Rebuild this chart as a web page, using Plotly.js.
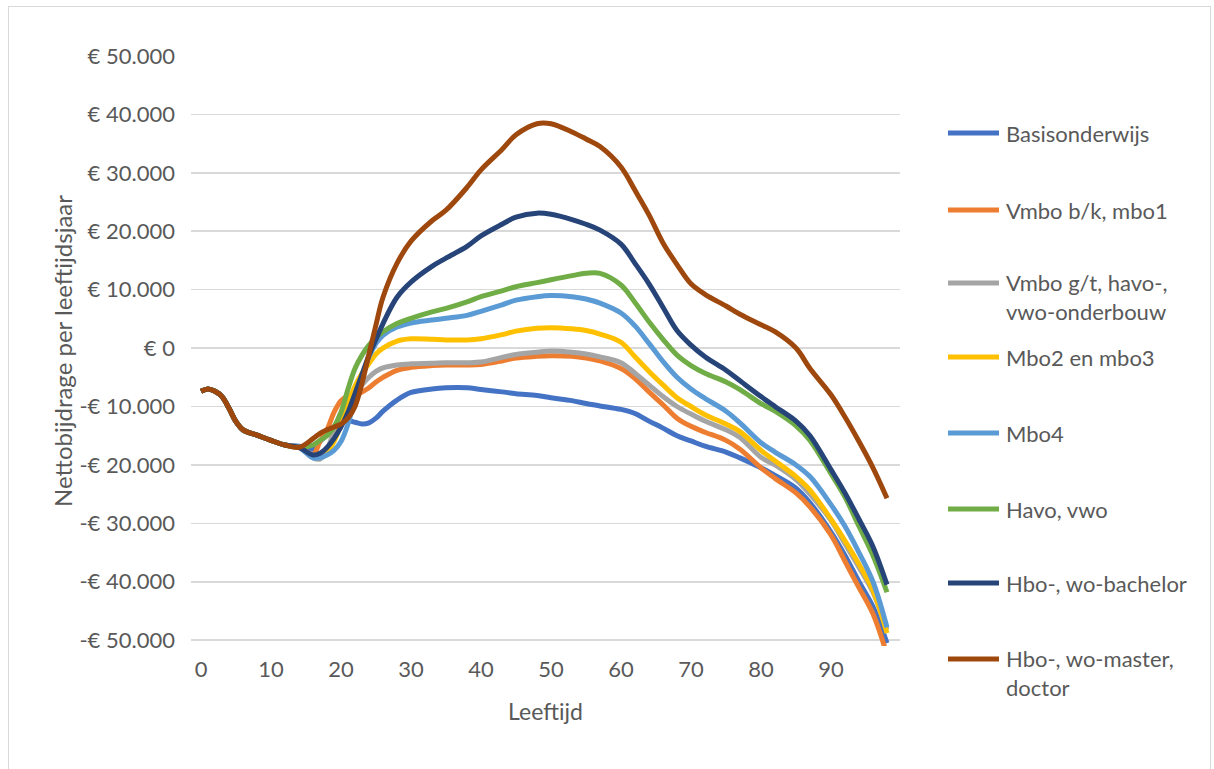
<!DOCTYPE html>
<html><head><meta charset="utf-8">
<script src="https://cdn.plot.ly/plotly-3.0.1.min.js"></script>
<style>
html,body{margin:0;padding:0;background:#fff;}
#chart{position:absolute;left:0;top:0;width:1214px;height:769px;}
#frame{position:absolute;left:8px;top:6px;width:1201px;height:772px;border:1.5px solid #d9d9d9;pointer-events:none;}
</style>
</head><body><div id="chart"></div><div id="frame"></div>
<script>
// Age points (years)
const ages = [0,1,2,3,4,5,6,8,10,12,14,16,17,18,19,20,21,22,23,24,25,26,28,30,33,35,38,40,43,45,48,50,53,55,57,60,62,64,66,68,70,72,75,77,80,82,85,87,90,92,94,96,98];

const seriesNames = ['Basisonderwijs','Vmbo b/k, mbo1','Vmbo g/t, havo-, vwo-onderbouw','Mbo2 en mbo3','Mbo4','Havo, vwo','Hbo-, wo-bachelor','Hbo-, wo-master, doctor'];
const legendLabels = ['Basisonderwijs','Vmbo b/k, mbo1','Vmbo g/t, havo-,<br>vwo-onderbouw','Mbo2 en mbo3','Mbo4','Havo, vwo','Hbo-, wo-bachelor','Hbo-, wo-master,<br>doctor'];
const seriesColors = ['#4472C4','#ED7D31','#A5A5A5','#FFC000','#5B9BD5','#70AD47','#264478','#9E480E'];

// Net contribution per age year (euro)
const basisonderwijs = [-7400,-7000,-7400,-8300,-10300,-12600,-14000,-14900,-15800,-16600,
  -16800,-17300,-16000,-14800,-13500,-12500,-12400,-12700,-13000,-12800,
  -12000,-10800,-8900,-7600,-7000,-6800,-6800,-7100,-7500,-7800,
  -8100,-8500,-9000,-9500,-9900,-10500,-11200,-12500,-13700,-15000,
  -15900,-16800,-17800,-18800,-20500,-21800,-24000,-26500,-31500,-35500,
  -40000,-44300,-50500];
const vmboBK = [-7400,-7000,-7400,-8300,-10300,-12600,-14000,-14900,-15800,-16600,
  -17000,-18200,-16000,-14000,-11000,-9000,-8200,-8000,-7500,-6800,
  -5800,-5000,-3800,-3300,-3000,-2900,-2900,-2800,-2200,-1700,
  -1400,-1300,-1400,-1700,-2200,-3500,-5200,-7500,-9700,-12000,
  -13400,-14400,-15800,-17300,-20500,-22300,-24800,-27200,-32000,-36500,
  -41000,-45500,-52500];
const vmboGT = [-7400,-7000,-7400,-8300,-10300,-12600,-14000,-14900,-15800,-16600,
  -17000,-18800,-19000,-17500,-14000,-11000,-9300,-7800,-6300,-5000,
  -4000,-3400,-2900,-2700,-2600,-2500,-2500,-2400,-1600,-1100,
  -700,-500,-700,-1000,-1500,-2500,-4300,-6300,-8300,-10000,
  -11300,-12500,-14000,-15300,-18700,-20000,-22500,-25000,-29500,-33500,
  -37500,-41800,-48200];
const mbo23 = [-7400,-7000,-7400,-8300,-10300,-12600,-14000,-14900,-15800,-16600,
  -17000,-18500,-18600,-17800,-16000,-13000,-9500,-6500,-4300,-2600,
  -1000,0,1200,1600,1500,1400,1400,1600,2300,2900,
  3400,3500,3300,3000,2400,1000,-1500,-4000,-6300,-8500,
  -10000,-11400,-13000,-14300,-17500,-19300,-22000,-24300,-29300,-33000,
  -37000,-41500,-48800];
const mbo4 = [-7400,-7000,-7400,-8300,-10300,-12600,-14000,-14900,-15800,-16600,
  -17000,-18800,-18800,-18300,-17500,-16000,-13000,-8500,-5000,-1500,
  800,2200,3600,4300,4800,5100,5600,6300,7400,8200,
  8800,9000,8800,8400,7700,6000,3800,800,-2300,-5000,
  -7000,-8600,-10800,-12800,-16200,-17800,-20000,-22000,-26800,-30500,
  -35000,-40000,-47800];
const havoVwo = [-7400,-7000,-7400,-8300,-10300,-12600,-14000,-14900,-15800,-16600,
  -17000,-16600,-15800,-15000,-13500,-11000,-7000,-3500,-1200,500,
  1800,2800,4200,5100,6200,6800,7900,8800,9800,10500,
  11200,11700,12400,12800,12800,10800,7800,4500,1500,-1200,
  -3000,-4300,-5800,-7100,-9500,-10800,-13300,-15800,-21500,-25500,
  -30500,-35500,-41800];
const hboBachelor = [-7400,-7000,-7400,-8300,-10300,-12600,-14000,-14900,-15800,-16600,
  -17000,-18300,-18000,-17000,-15500,-13500,-11000,-7800,-4500,-1200,
  1500,4200,8700,11300,14000,15400,17400,19200,21200,22400,
  23100,22900,22000,21200,20200,17800,14500,11000,7000,3000,
  500,-1500,-3800,-5600,-8300,-10000,-12500,-15000,-20800,-24800,
  -29300,-34000,-40500];
const hboMaster = [-7400,-7000,-7400,-8300,-10300,-12600,-14000,-14900,-15800,-16600,
  -17000,-15500,-14600,-14000,-13500,-13000,-12000,-10000,-6000,-1000,
  4000,8700,14500,18300,21800,23600,27500,30500,34000,36500,
  38400,38400,37000,35800,34500,31000,27000,22800,18000,14300,
  11000,9200,7200,5800,4000,2800,0,-3500,-8000,-11800,
  -16000,-20500,-25700];

const seriesValues = [basisonderwijs, vmboBK, vmboGT, mbo23, mbo4, havoVwo, hboBachelor, hboMaster];

const xTickVals = [0,10,20,30,40,50,60,70,80,90];
const xTickLabels = ['0','10','20','30','40','50','60','70','80','90'];
const yTickVals = [-50000,-40000,-30000,-20000,-10000,0,10000,20000,30000,40000,50000];
const yTickLabels = ['-€ 50.000','-€ 40.000','-€ 30.000','-€ 20.000','-€ 10.000','€ 0','€ 10.000','€ 20.000','€ 30.000','€ 40.000','€ 50.000'];

const traces = seriesValues.map((vals, i) => ({
  type: 'scatter', mode: 'lines', name: seriesNames[i],
  x: ages, y: vals,
  line: {color: seriesColors[i], width: 5, shape: 'spline', smoothing: 1},
  hoverinfo: 'x+y+name'
}));

// Legend drawn at right (pixel positions -> paper coords)
const M = {l:191, r:314, t:56, b:123};
const W = 1214, H = 769;
const pw = W - M.l - M.r, ph = H - M.t - M.b;
const px2x = px => (px - M.l) / pw;
const py2y = py => (H - M.b - py) / ph;
const legendRowY = [133, 210, 283, 357, 433, 509, 583, 659];
const shapes = [], annotations = [];
legendLabels.forEach((lab, i) => {
  const yy = py2y(legendRowY[i]);
  shapes.push({type:'line', xref:'paper', yref:'paper', x0:px2x(948), x1:px2x(999), y0:yy, y1:yy,
    line:{color:seriesColors[i], width:5}});
  const twoLine = lab.indexOf('<br>') >= 0;
  annotations.push({xref:'paper', yref:'paper', x:px2x(1004), y:yy, xanchor:'left', yanchor:'middle',
    yshift: twoLine ? -14 : 0, align:'left', showarrow:false, text:lab,
    font:{family:'Lato, sans-serif', size:22, color:'#595959'}});
});

const layout = {
  width: W, height: H,
  margin: M,
  paper_bgcolor: 'rgba(0,0,0,0)', plot_bgcolor: '#fff',
  showlegend: false,
  font: {family: 'Lato, sans-serif', color: '#595959', size: 22},
  xaxis: {
    range: [-1.43, 99.86], tickmode: 'array', tickvals: xTickVals, ticktext: xTickLabels,
    showgrid: false, zeroline: false, showline: false, ticks: '',
    tickfont: {size: 22, color: '#595959'}, ticklabelstandoff: 8,
    title: {text: 'Leeftijd', font: {size: 23, color: '#595959'}, standoff: 22}
  },
  yaxis: {
    range: [-51000, 50000], tickmode: 'array', tickvals: yTickVals, ticktext: yTickLabels,
    showgrid: true, gridcolor: '#d9d9d9', gridwidth: 1.6, zeroline: false, showline: false, ticks: '',
    tickfont: {size: 22, color: '#595959'}, ticklabelstandoff: 15,
    title: {text: 'Nettobijdrage per leeftijdsjaar', font: {size: 24, color: '#595959'}, standoff: 0}
  },
  shapes: shapes,
  annotations: annotations
};

Plotly.newPlot('chart', traces, layout, {displayModeBar: false, staticPlot: true});
</script>
</body></html>
